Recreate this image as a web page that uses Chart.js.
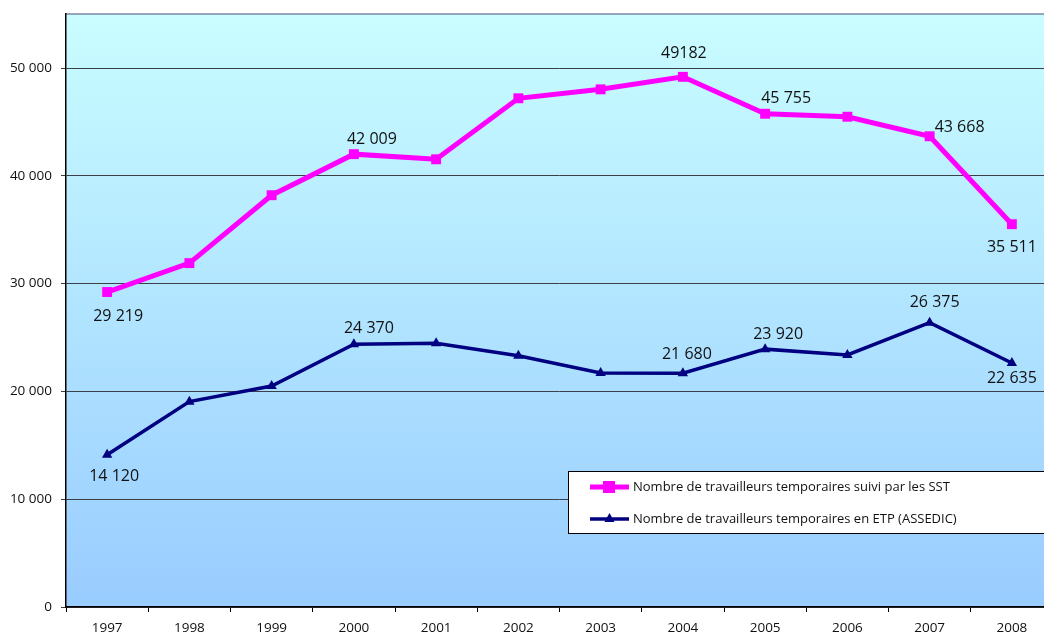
<!DOCTYPE html>
<html>
<head>
<meta charset="utf-8">
<script src="https://cdn.jsdelivr.net/npm/chart.js@4.4.0/dist/chart.umd.min.js"></script>
<style>
  html, body { margin: 0; padding: 0; background: #fff; overflow: hidden; }
  #wrap { width: 1060px; height: 637px; margin-top: -3px; }
</style>
</head>
<body>
<div id="wrap"><canvas id="chart"></canvas></div>
<script>
// categories
const years = ["1997", "1998", "1999", "2000", "2001", "2002", "2003", "2004", "2005", "2006", "2007", "2008"];

// series values
const sstWorkers = [29219, 31900, 38200, 42009, 41530, 47190, 48020, 49182, 45755, 45480, 43668, 35511];
const etpWorkers = [14120, 19050, 20500, 24370, 24460, 23310, 21700, 21680, 23920, 23380, 26375, 22635];

const sstName = "Nombre de travailleurs temporaires suivi par les SST";
const etpName = "Nombre de travailleurs temporaires en ETP (ASSEDIC)";

// which points carry a value label (null = none)
const sstLabels = ["29 219", null, null, "42 009", null, null, null, "49182", "45 755", null, "43 668", "35 511"];
const etpLabels = ["14 120", null, null, "24 370", null, null, null, "21 680", "23 920", null, "26 375", "22 635"];

// y axis ticks
const yTicks = [0, 10000, 20000, 30000, 40000, 50000];

// label placement relative to the point [dx, dy, align]
const sstPlace = [[11, 24, "center"], null, null, [18, -15, "center"], null, null, null, [1, -23, "center"], [21, -15, "center"], null, [5, -9, "left"], [0, 23, "center"]];
const etpPlace = [[7, 22, "center"], null, null, [15, -16, "center"], null, null, null, [4, -19, "center"], [13, -15, "center"], null, [5, -20, "center"], [0, 15, "center"]];

const FONT = "'Open Sans', sans-serif";

function fmt(v) {
  return String(v).replace(/\B(?=(\d{3})+(?!\d))/g, " ");
}

// gradient plot background + top border
const plotBackground = {
  id: "plotBackground",
  beforeDraw(chart) {
    const { ctx, chartArea: a } = chart;
    const g = ctx.createLinearGradient(0, a.top, 0, a.bottom);
    g.addColorStop(0, "#c9fdff");
    g.addColorStop(1, "#99ccff");
    ctx.save();
    ctx.fillStyle = g;
    ctx.fillRect(a.left, a.top, a.right - a.left, a.bottom - a.top);
    ctx.strokeStyle = "#7b86a8";
    ctx.lineWidth = 1.5;
    ctx.beginPath();
    ctx.moveTo(a.left, a.top);
    ctx.lineTo(a.right, a.top);
    ctx.stroke();
    ctx.restore();
  }
};

// value labels
const valueLabels = {
  id: "valueLabels",
  afterDatasetsDraw(chart) {
    const { ctx } = chart;
    const sets = [[sstLabels, sstPlace], [etpLabels, etpPlace]];
    ctx.save();
    ctx.font = "16px " + FONT;
    ctx.fillStyle = "#111";
    ctx.textBaseline = "middle";
    sets.forEach(([labels, place], di) => {
      const meta = chart.getDatasetMeta(di);
      labels.forEach((txt, i) => {
        if (!txt) return;
        const p = meta.data[i];
        const [dx, dy, align] = place[i];
        ctx.textAlign = align;
        ctx.fillText(txt, p.x + dx, p.y + dy);
      });
    });
    ctx.restore();
  }
};

// boxed legend inside the plot
const boxLegend = {
  id: "boxLegend",
  afterDraw(chart) {
    const { ctx } = chart;
    const x = 568, y = 474, w = 500, h = 62;
    ctx.save();
    ctx.fillStyle = "#fff";
    ctx.fillRect(x, y, w, h);
    ctx.strokeStyle = "#000";
    ctx.lineWidth = 1;
    ctx.strokeRect(x + 0.5, y + 0.5, w, h);
    ctx.font = "13px " + FONT;
    ctx.textBaseline = "middle";
    ctx.textAlign = "left";
    chart.data.datasets.forEach((ds, i) => {
      const ly = y + 16 + i * 32;
      ctx.strokeStyle = ds.borderColor;
      ctx.lineWidth = ds.borderWidth;
      ctx.beginPath();
      ctx.moveTo(590, ly);
      ctx.lineTo(629, ly);
      ctx.stroke();
      ctx.fillStyle = ds.pointBackgroundColor;
      if (i === 0) {
        ctx.fillRect(603, ly - 6, 12, 12);
      } else {
        ctx.beginPath();
        ctx.moveTo(609.5, ly - 6);
        ctx.lineTo(614.5, ly + 3);
        ctx.lineTo(604.5, ly + 3);
        ctx.closePath();
        ctx.fill();
      }
      ctx.fillStyle = "#111";
      ctx.fillText(ds.label, 633, ly);
    });
    ctx.restore();
  }
};

const canvas = document.getElementById("chart").getContext("2d");

new Chart(canvas, {
  type: "line",
  data: {
    labels: years,
    datasets: [
      {
        label: sstName,
        data: sstWorkers,
        borderColor: "#ff00ff",
        backgroundColor: "#ff00ff",
        pointBackgroundColor: "#ff00ff",
        borderWidth: 5,
        pointStyle: "rect",
        pointRadius: 7,
        pointBorderWidth: 0,
        tension: 0
      },
      {
        label: etpName,
        data: etpWorkers,
        borderColor: "#000080",
        backgroundColor: "#000080",
        pointBackgroundColor: "#000080",
        borderWidth: 3.5,
        pointStyle: "triangle",
        pointRadius: 6,
        pointBorderWidth: 0,
        tension: 0
      }
    ]
  },
  options: {
    responsive: true,
    maintainAspectRatio: false,
    animation: false,
    events: [],
    layout: { padding: { left: 0, top: 11, right: 5, bottom: 0 } },
    plugins: {
      legend: { display: false },
      tooltip: { enabled: false }
    },
    scales: {
      x: {
        offset: true,
        grid: {
          offset: true,
          drawOnChartArea: false,
          drawTicks: true,
          tickLength: 5,
          color: "#000"
        },
        border: { color: "#000", width: 1.5 },
        ticks: {
          color: "#111",
          font: { family: FONT, size: 13.5 },
          padding: 8,
          maxRotation: 0
        },
        afterFit(scale) { scale.height = 27; }
      },
      y: {
        min: 0,
        max: 55000,
        afterBuildTicks(scale) {
          scale.ticks = yTicks.map((v) => ({ value: v }));
        },
        grid: {
          color: "#3a4048",
          lineWidth: 1,
          tickLength: 5,
          drawTicks: true
        },
        border: { color: "#000", width: 1.5 },
        ticks: {
          color: "#111",
          font: { family: FONT, size: 13.5 },
          padding: 9,
          callback: (v) => fmt(v)
        },
        afterFit(scale) { scale.width = 66; }
      }
    }
  },
  plugins: [plotBackground, valueLabels, boxLegend]
});
</script>
</body>
</html>
